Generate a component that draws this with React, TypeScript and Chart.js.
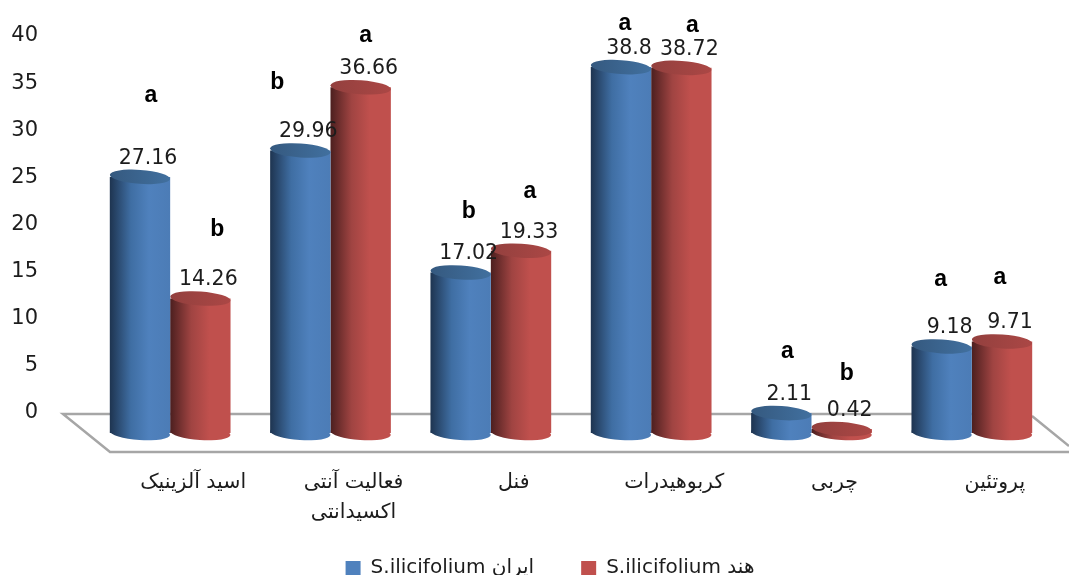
import React, { useEffect, useRef } from "react";
import { Chart, registerables } from "chart.js";

Chart.register(...registerables);

const categories: (string | string[])[] = [
  "اسید آلزینیک",
  ["فعالیت آنتی", "اکسیدانتی"],
  "فنل",
  "کربوهیدرات",
  "چربی",
  "پروتئین",
];
const seriesNames = ["S.ilicifolium ایران", "S.ilicifolium هند"];
const iranValues = [27.16, 29.96, 17.02, 38.8, 2.11, 9.18];
const indiaValues = [14.26, 36.66, 19.33, 38.72, 0.42, 9.71];
const iranLetters = ["a", "b", "b", "a", "a", "a"];
const indiaLetters = ["b", "a", "a", "a", "b", "a"];
// heights of the significance letters, in axis units
const iranLetterLevels = [33.7, 35.0, 21.4, 41.3, 6.5, 14.1];
const indiaLetterLevels = [19.5, 40.0, 23.5, 41.1, 4.2, 14.4];
const iranLetterShift = [11, -23, 8, 4, 6, -1];
const indiaLetterShift = [17, 5, 9, 11, 5, -2];

const TEXT = "#1c1c1c";
const NUM_FONT = '20.5px "DejaVu Sans"';

const palettes = [
  { stops: ["#1e3450", "#3f6ea3", "#4f81bd", "#4c7cb6"], top: ["#35597f", "#41709f"] },
  { stops: ["#4c1f1f", "#a04442", "#c0504d", "#c0504d"], top: ["#93403e", "#ab4745"] },
];

const placementPlugin = {
  id: "placement",
  afterLayout(chart: any) {
    // the legend's row gap also sets its height, so it is moved into place here
    const lg = chart.legend;
    const h = lg.bottom - lg.top;
    lg.top = 511;
    lg.bottom = 511 + h;
    lg.left += 24;
    lg.right += 24;
    chart.scales.x.bottom = 530;
    // tick labels sit well left of the plot; a large tick padding would push the plot down
    chart.scales.y.right = 54;
  },
};

const cylinderPlugin = {
  id: "cylinder",
  beforeDatasetDraw(chart: any, args: any) {
    const { ctx } = chart;
    const p = palettes[args.index];
    args.meta.data.forEach((el: any) => {
      const w = el.width;
      const g = ctx.createLinearGradient(el.x - w / 2, 0, el.x + w / 2, 0);
      g.addColorStop(0, p.stops[0]);
      g.addColorStop(0.35, p.stops[1]);
      g.addColorStop(0.65, p.stops[2]);
      g.addColorStop(1, p.stops[3]);
      el.options = { ...el.options, backgroundColor: g };
      ctx.save();
      ctx.fillStyle = g;
      ctx.beginPath();
      ctx.ellipse(el.x, el.base, w / 2, 7, 0.07, 0, Math.PI * 2);
      ctx.fill();
      ctx.restore();
    });
  },
  afterDatasetDraw(chart: any, args: any) {
    const { ctx } = chart;
    const p = palettes[args.index];
    args.meta.data.forEach((el: any) => {
      const w = el.width;
      const g = ctx.createLinearGradient(el.x - w / 2, 0, el.x + w / 2, 0);
      g.addColorStop(0, p.top[0]);
      g.addColorStop(1, p.top[1]);
      ctx.save();
      ctx.fillStyle = g;
      ctx.beginPath();
      ctx.ellipse(el.x, el.y, w / 2, 7, 0.07, 0, Math.PI * 2);
      ctx.fill();
      ctx.restore();
    });
  },
};

const floorPlugin = {
  id: "floor",
  beforeDatasetsDraw(chart: any) {
    const { ctx, scales } = chart;
    const { left, right } = chart.chartArea;
    const back = scales.y.getPixelForValue(0);
    const front = scales.y.getPixelForValue(scales.y.min);
    ctx.save();
    ctx.strokeStyle = "#a6a6a6";
    ctx.lineWidth = 2.5;
    ctx.beginPath();
    ctx.moveTo(right - 20, back + 1);
    ctx.lineTo(left - 27, back + 1);
    ctx.lineTo(left + 20, front);
    ctx.lineTo(right + 17, front);
    ctx.moveTo(right - 20, back + 3);
    ctx.lineTo(right + 17, back + 33);
    ctx.stroke();
    ctx.restore();
  },
};

const labelPlugin = {
  id: "valueLabels",
  afterDatasetsDraw(chart: any) {
    const { ctx, scales } = chart;
    ctx.save();
    ctx.textAlign = "center";
    ctx.textBaseline = "middle";
    const values = [iranValues, indiaValues];
    const letters = [iranLetters, indiaLetters];
    const levels = [iranLetterLevels, indiaLetterLevels];
    const shifts = [iranLetterShift, indiaLetterShift];
    values.forEach((vals, d) => {
      const meta = chart.getDatasetMeta(d);
      vals.forEach((v, i) => {
        const el = meta.data[i];
        ctx.font = NUM_FONT;
        ctx.fillStyle = TEXT;
        ctx.fillText(String(v), el.x + 8, el.y - 18.5);
        ctx.font = 'bold 23px "Liberation Sans"';
        ctx.fillStyle = "#000";
        ctx.fillText(letters[d][i], el.x + shifts[d][i], scales.y.getPixelForValue(levels[d][i]));
      });
    });
    ctx.restore();
  },
};

export default function App() {
  const ref = useRef<HTMLCanvasElement>(null);
  useEffect(() => {
    const chart = new Chart(ref.current as HTMLCanvasElement, {
      type: "bar",
      data: {
        labels: categories as any,
        datasets: [
          { label: seriesNames[0], data: iranValues, backgroundColor: "#4f81bd", yAxisID: "bars", borderWidth: 0 },
          { label: seriesNames[1], data: indiaValues, backgroundColor: "#c0504d", yAxisID: "bars", borderWidth: 0 },
        ],
      },
      options: {
        responsive: false,
        animation: false,
        categoryPercentage: 0.753,
        barPercentage: 1,
        clip: false,
        layout: { padding: { left: 0, right: 17, top: 36, bottom: 0 } },
        plugins: {
          tooltip: { enabled: false },
          legend: {
            position: "bottom",
            labels: {
              boxWidth: 15,
              boxHeight: 14,
              padding: 47,
              color: TEXT,
              font: { family: '"DejaVu Sans"', size: 20 },
            },
          },
        },
        scales: {
          x: {
            grid: { display: false },
            border: { display: false },
            ticks: {
              color: TEXT,
              font: { family: '"DejaVu Sans"', size: 20.5, lineHeight: 1.45 },
              labelOffset: 23,
              padding: 8,
              maxRotation: 0,
              autoSkip: false,
            },
            afterFit: (s: any) => {
              s.height = 46;
            },
          },
          y: {
            min: -4.136,
            max: 40,
            position: "left",
            grid: { display: false, drawTicks: false },
            border: { display: false },
            ticks: {
              stepSize: 5,
              color: TEXT,
              padding: 16,
              font: { family: '"DejaVu Sans"', size: 21 },
            },
            afterBuildTicks: (s: any) => {
              s.ticks = s.ticks.filter((t: any) => t.value >= 0);
            },
            afterFit: (s: any) => {
              s.width = 90;
            },
          },
          bars: {
            min: -2.015,
            max: 42.1,
            display: false,
          },
        },
      } as any,
      plugins: [placementPlugin, floorPlugin, cylinderPlugin, labelPlugin],
    });
    return () => chart.destroy();
  }, []);
  return (
    <div style={{ position: "absolute", left: 0, top: 0, width: 1069, height: 575, background: "#fff" }}>
      <canvas ref={ref} width={1069} height={575} style={{ display: "block" }} />
    </div>
  );
}
